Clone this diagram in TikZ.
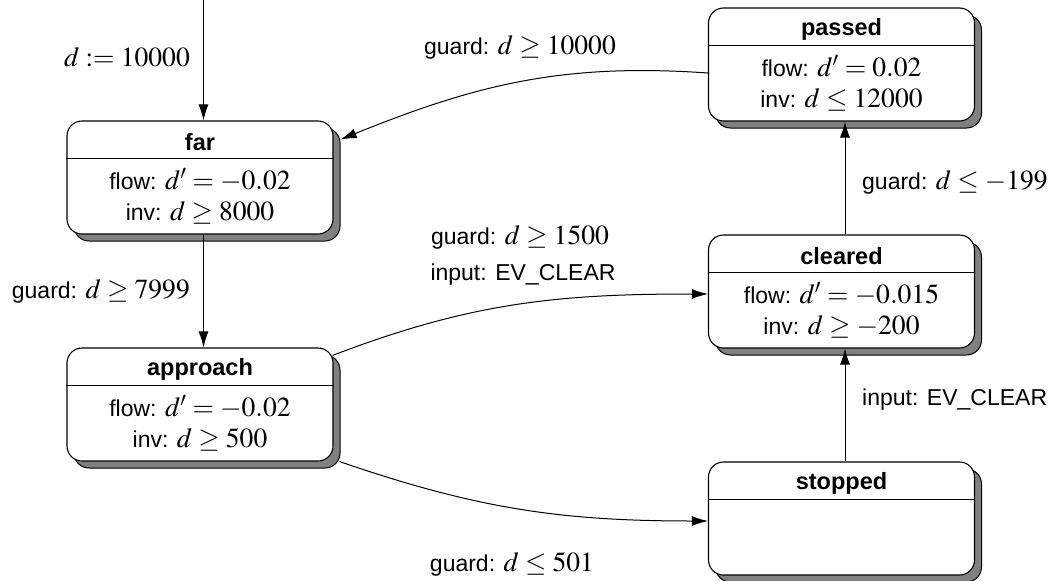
\documentclass[tikz,border=0pt]{standalone}
\usepackage{mathptmx}
\usepackage[no-math]{fontspec}
\setmainfont{Liberation Sans}
\usetikzlibrary{arrows.meta,shadows,calc}

% formulas are set a little larger than the surrounding sans text
\newcommand\fm[1]{{\fontsize{27.6}{30}\selectfont$#1$}}

% one state: rounded box with a title bar and a body with flow/invariant
\newcommand\hstate[5]{%
  \node[state] (#1) at (#2,#3) {};
  \node[title] (#1-t) at ($(#1.north)+(0,22)$) {#4};
  \draw[divider] ($(#1.north west)+(0,38)$) -- ($(#1.north east)+(0,38)$);
  \node[body] (#1-b) at ($(#1.north)+(0,76)$) {#5};
}

\begin{document}
\begin{tikzpicture}[x=1pt,y=-1pt,
  txt/.style={font=\fontsize{23}{28}\selectfont,inner sep=0pt},
  state/.style={draw,line width=1.1pt,rounded corners=15pt,fill=white,
    minimum width=266pt,minimum height=113pt,inner sep=0pt,
    drop shadow={shadow xshift=7pt,shadow yshift=-7pt,opacity=1,
      fill=gray,draw=black,line width=1pt}},
  title/.style={txt,font=\fontsize{23.5}{28}\selectfont\bfseries},
  body/.style={txt,align=center,font=\fontsize{23}{30}\selectfont},
  divider/.style={line width=0.9pt},
  arr/.style={line width=1pt,-{Latex[length=16pt,width=10pt]}}
]
\useasboundingbox (0,0) rectangle (1055,581);

\hstate{far}{200}{177.5}{far}{flow: \fm{d' = -0.02}\\[1pt] inv: \fm{d \geq 8000}}
\hstate{approach}{200}{404.5}{approach}{flow: \fm{d' = -0.02}\\[1pt] inv: \fm{d \geq 500}}
\hstate{passed}{841.5}{64.5}{passed}{flow: \fm{d' = 0.02}\\[1pt] inv: \fm{d \leq 12000}}
\hstate{cleared}{841.5}{291.5}{cleared}{flow: \fm{d' = -0.015}\\[1pt] inv: \fm{d \geq -200}}
\hstate{stopped}{841.5}{518.5}{stopped}{}

% initial transition
\coordinate (init) at (203.5,0);
\draw[arr] (init) -- ([xshift=3.5pt]far.north);
\node[txt,anchor=east] (l-init) at (190,57) {\fm{d := 10000}};

% far -> approach
\draw[arr] ([xshift=3.5pt]far.south) -- ([xshift=3.5pt]approach.north);
\node[txt,anchor=east] (l-fa) at (190,291) {guard: \fm{d \geq 7999}};

% passed -> far
\draw[arr] ($(passed.west)+(0,8.5)$) to[out=176,in=22] ($(far.north east)+(7,19)$);
\node[txt] (l-pf) at (520,47) {guard: \fm{d \geq 10000}};

% approach -> cleared
\draw[arr] ($(approach.north east)+(-1,8)$) to[out=21,in=180] ($(cleared.west)+(0,2.5)$);
\node[txt] (l-ac1) at (520,237) {guard: \fm{d \geq 1500}};
\node[txt] (l-ac2) at (523,275) {input: EV\_CLEAR};

% approach -> stopped
\draw[arr] ($(approach.south east)+(6,0)$) to[out=-19,in=180] ($(stopped.west)+(0,2.5)$);
\node[txt] (l-as) at (512,564) {guard: \fm{d \leq 501}};

% stopped -> cleared
\draw[arr] ([xshift=3.5pt]stopped.north) -- ([xshift=3.5pt]cleared.south);
\node[txt,anchor=west] (l-sc) at (862,400) {input: EV\_CLEAR};

% cleared -> passed
\draw[arr] ([xshift=3.5pt]cleared.north) -- ([xshift=3.5pt]passed.south);
\node[txt,anchor=west] (l-cp) at (862,182) {guard: \fm{d \leq -199}};
\end{tikzpicture}
\end{document}
